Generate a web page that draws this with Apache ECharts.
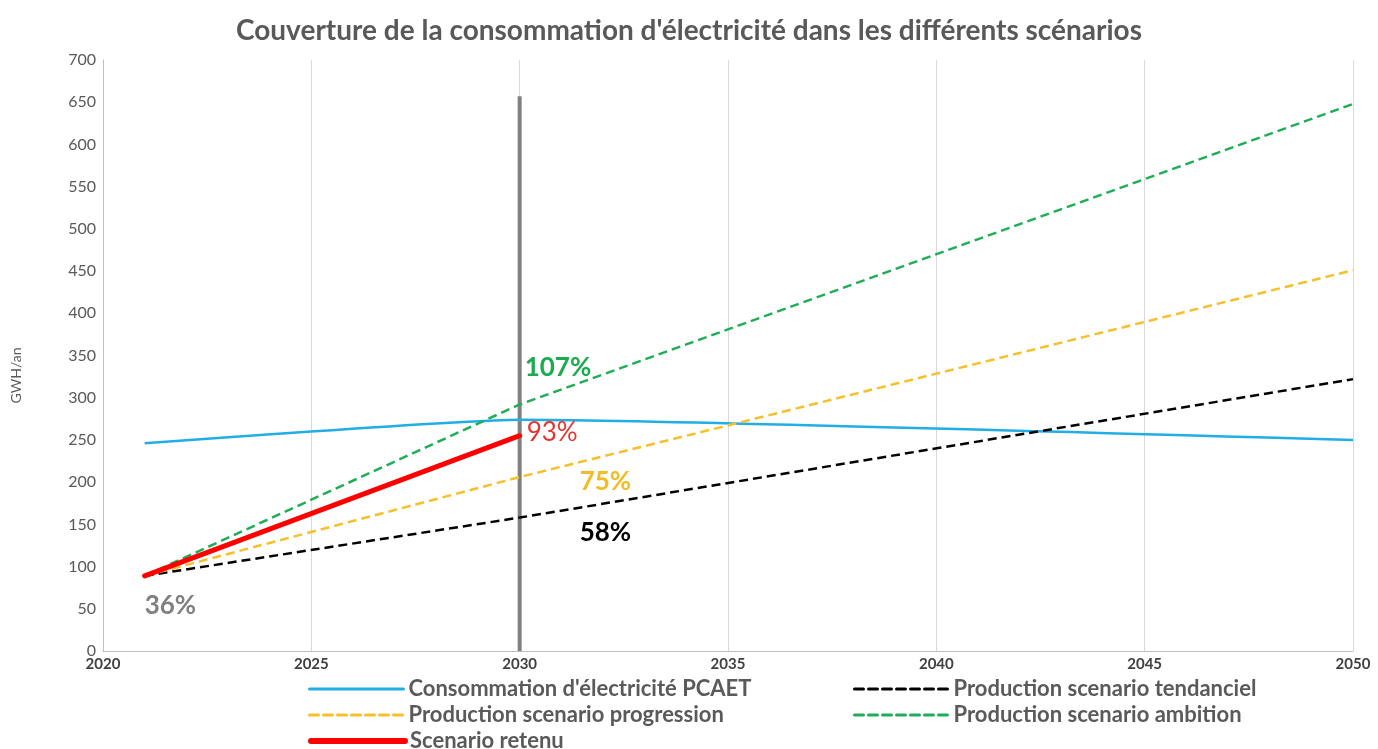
<!DOCTYPE html>
<html>
<head>
<meta charset="utf-8">
<script src="https://cdn.jsdelivr.net/npm/echarts@6/dist/echarts.min.js"></script>
<style>
  html, body { margin: 0; padding: 0; background: #fff; }
  #chart { width: 1378px; height: 749px; }
</style>
</head>
<body>
<div id="chart"></div>
<script>
// Years at which each scenario is defined
const years = [2021, 2030, 2050];

// Electricity consumption and production scenarios (GWh/an)
const consommation = [246, 274, 250];
const tendanciel   = [89, 158, 322];
const progression  = [89, 206, 451];
const ambition     = [89, 292, 648];
const retenuYears  = [2021, 2030];
const retenu       = [89, 255];

// 2030 horizon marker (bottom and top values)
const horizonYear = 2030;
const horizonRange = [0, 657];

const seriesNames = [
  "Consommation d'électricité PCAET",
  'Production scenario tendanciel',
  'Production scenario progression',
  'Production scenario ambition',
  'Scenario retenu'
];

const xTicks = [2020, 2025, 2030, 2035, 2040, 2045, 2050];

const pairs = (xs, ys) => xs.map((x, i) => [x, ys[i]]);
const pct = (p, c) => Math.round(p / c * 100) + '%';

const FONT = 'Lato, "Open Sans", sans-serif';
const dash = [9, 5];

const COLORS = {
  conso: '#22aee4',
  tend: '#000000',
  prog: '#f5c02c',
  amb: '#1fae57',
  ret: '#ff0000',
  horizon: '#808080'
};

// Coverage ratios shown next to the lines
const consoAt = (y) => consommation[years.indexOf(y)];
const coverage = [
  { pt: [2030, ambition[1]], text: pct(ambition[1], consoAt(2030)), color: '#1aab50', weight: 'bold', offset: [5, -37] },
  { pt: [2030, retenu[1]], text: pct(retenu[1], consoAt(2030)), color: '#e53530', weight: 'normal', offset: [7, -3] },
  { pt: [2030, progression[1]], text: pct(progression[1], consoAt(2030)), color: '#f2bc22', weight: 'bold', offset: [60, 5] },
  { pt: [2030, tendanciel[1]], text: pct(tendanciel[1], consoAt(2030)), color: '#000000', weight: 'bold', offset: [60, 15] },
  { pt: [2021, tendanciel[0]], text: pct(tendanciel[0], consoAt(2021)), color: '#808080', weight: 'bold', offset: [0, 30] }
];

const chart = echarts.init(document.getElementById('chart'));

// One legend block per entry, laid out in two columns
function legendEntry(name, left, top, lineWidth) {
  return {
    left, top, orient: 'horizontal', selectedMode: false,
    padding: 0,
    itemWidth: 94, itemHeight: 20, itemGap: 0,
    data: [name],
    itemStyle: { opacity: 0 },
    lineStyle: { width: lineWidth, cap: 'round' },
    textStyle: { fontFamily: FONT, fontSize: 22, fontWeight: 'bold', color: '#5a5a5a' }
  };
}

chart.setOption({
  animation: false,
  backgroundColor: '#ffffff',
  title: {
    text: 'Couverture de la consommation d\'électricité dans les différents scénarios',
    left: 'center',
    top: 12,
    textStyle: { fontFamily: FONT, fontSize: 28, fontWeight: 'bold', color: '#595959' }
  },
  legend: [
    legendEntry(seriesNames[0], 308, 678, 3),
    legendEntry(seriesNames[2], 308, 704, 3),
    legendEntry(seriesNames[4], 308, 730, 6),
    legendEntry(seriesNames[1], 853, 678, 3),
    legendEntry(seriesNames[3], 853, 704, 3)
  ],
  grid: { left: 103, right: 25, top: 60, bottom: 98, containLabel: false },
  xAxis: {
    type: 'value', min: 2020, max: 2050, interval: 5,
    axisLine: { show: true, lineStyle: { color: '#bfbfbf', width: 1 } },
    axisTick: { show: false },
    splitLine: { show: true, lineStyle: { color: '#d9d9d9', width: 1 } },
    axisLabel: {
      fontFamily: FONT, fontSize: 15, fontWeight: 'bold', color: '#404040', margin: 6,
      formatter: (v) => xTicks.includes(v) ? String(v) : ''
    }
  },
  yAxis: {
    type: 'value', min: 0, max: 700, interval: 50,
    name: 'GWH/an', nameLocation: 'middle', nameGap: 80, nameRotate: 90,
    nameTextStyle: { fontFamily: FONT, fontSize: 14, color: '#595959', padding: [0, 40, 0, 0] },
    axisLine: { show: true, lineStyle: { color: '#bfbfbf', width: 1 } },
    axisTick: { show: false },
    splitLine: { show: false },
    axisLabel: { fontFamily: FONT, fontSize: 16, color: '#595959', margin: 7 }
  },
  series: [
    {
      name: seriesNames[0], type: 'line', data: pairs(years, consommation),
      smooth: 0.15, symbol: 'none', lineStyle: { color: COLORS.conso, width: 2.5 },
      itemStyle: { color: COLORS.conso }, z: 3
    },
    {
      name: seriesNames[1], type: 'line', data: pairs(years, tendanciel),
      symbol: 'none', lineStyle: { color: COLORS.tend, width: 2.5, type: dash },
      itemStyle: { color: COLORS.tend }, z: 3
    },
    {
      name: seriesNames[2], type: 'line', data: pairs(years, progression),
      symbol: 'none', lineStyle: { color: COLORS.prog, width: 2.5, type: dash },
      itemStyle: { color: COLORS.prog }, z: 3
    },
    {
      name: seriesNames[3], type: 'line', data: pairs(years, ambition),
      symbol: 'none', lineStyle: { color: COLORS.amb, width: 2.5, type: dash },
      itemStyle: { color: COLORS.amb }, z: 3
    },
    {
      name: seriesNames[4], type: 'line', data: pairs(retenuYears, retenu),
      symbol: 'none', lineStyle: { color: COLORS.ret, width: 5, cap: 'round' },
      itemStyle: { color: COLORS.ret }, z: 5
    },
    {
      name: 'horizon', type: 'line',
      data: horizonRange.map(v => [horizonYear, v]),
      symbol: 'none', lineStyle: { color: COLORS.horizon, width: 4 }, z: 2,
      silent: true
    },
    {
      name: 'taux', type: 'scatter', symbolSize: 0, z: 6, silent: true,
      itemStyle: { opacity: 1 },
      data: coverage.map(c => ({
        value: c.pt,
        label: {
          show: true, position: 'right', distance: 0, offset: c.offset,
          formatter: c.text,
          fontFamily: FONT, fontSize: 26, fontWeight: c.weight, color: c.color
        }
      }))
    }
  ]
});
</script>
</body>
</html>
